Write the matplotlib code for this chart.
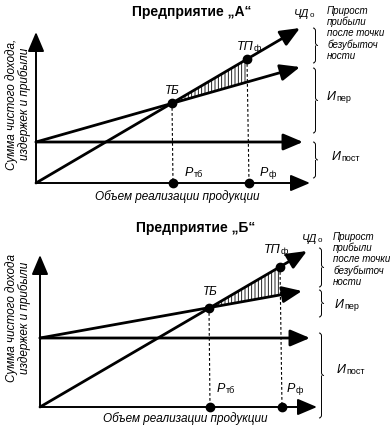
import numpy as np
import matplotlib
matplotlib.use("Agg")
import matplotlib.pyplot as plt
from matplotlib.path import Path
from matplotlib.patches import PathPatch

plt.rcParams['font.family'] = ['Liberation Sans', 'DejaVu Sans']
plt.rcParams['hatch.linewidth'] = 0.6

# ---- panel data (units, origin at the axis corner) ----
titles = ["Предприятие „А“", "Предприятие „Б“"]
ylabels = ["Сумма чистого дохода,\nиздержек и прибыли",
           "Сумма чистого дохода\nиздержек и прибыли"]
xlabel = "Объем реализации продукции"
gain_text = "Прирост\nприбыли\nпосле точки\nбезубыточ\nности"

axis_end = [(274, 151), (277, 152)]      # x-axis length, y-axis height
fixed_x = [[0, 267], [0, 270]]
fixed_y = [[41, 41], [69, 69]]
cost_x = [[0, 264], [0, 262]]
cost_y = [[41, 116], [69, 116]]
rev_x = [[0, 264], [0, 267]]
rev_y = [[0, 155], [0, 156]]
tb_pt = [(136, 80), (169, 99)]           # break-even point ТБ
tp_pt = [(211, 124), (240, 140)]         # actual point ТПф
p_tb = [137, 170]                        # Ртб on x axis
p_f = [213, 242]                         # Рф on x axis

# layout (pixel geometry of the two panels)
frames = [dict(rect=[0, 0.5, 1, 0.5], xlim=(-36, 354), ylim=(-30, 183)),
          dict(rect=[0, 0.0, 1, 0.5], xlim=(-40, 350), ylim=(-19, 194))]
lab = [dict(title=(156, 171), xl=(141, -14), yl=(-18, 79), tb=(136, 86),
            tp=(201, 133), chd=(258, 166), ptb=(149, 7), pf=(224, 7),
            gain=(291, 177), iper=(291, 83), ipost=(296, 23),
            br_x=277, br=[(155, 120), (115, 50), (41, 5)]),
      dict(title=(156, 179), xl=(145, -12), yl=(-22, 89), tb=(170, 109),
            tp=(224, 154), chd=(262, 165), ptb=(177, 15), pf=(247, 15),
            gain=(293, 175), iper=(295, 99), ipost=(297, 34),
            br_x=279, br=[(159, 120), (117, 90), (74, -11)])]

fig = plt.figure(figsize=(3.9, 4.26), dpi=100)


def arrow(ax, x, y, lw=2.0):
    ax.annotate('', xy=(x[1], y[1]), xytext=(x[0], y[0]),
                arrowprops=dict(arrowstyle='-|>,head_length=0.85,head_width=0.36',
                                lw=lw, color='k', mutation_scale=14,
                                shrinkA=0, shrinkB=0))


def brace(ax, x, ytop, ybot, w=5):
    ym = (ytop + ybot) / 2
    r = 3
    verts = [(x, ytop), (x + w / 2, ytop), (x + w / 2, ytop - r),
             (x + w / 2, ym + r),
             (x + w / 2, ym), (x + w, ym),
             (x + w / 2, ym), (x + w / 2, ym - r),
             (x + w / 2, ybot + r),
             (x + w / 2, ybot), (x, ybot)]
    codes = [Path.MOVETO, Path.CURVE3, Path.CURVE3, Path.LINETO,
             Path.CURVE3, Path.CURVE3, Path.MOVETO, Path.CURVE3,
             Path.LINETO, Path.CURVE3, Path.CURVE3]
    ax.add_patch(PathPatch(Path(verts, codes), fc='none', ec='k', lw=0.7))


def sublabel(ax, x, y, main, sub, size=9):
    t = ax.text(x, y, main, fontsize=size, style='italic', ha='left',
                va='baseline', zorder=6)
    ax.annotate(sub, xy=(1.0, 0.0), xycoords=t, xytext=(0.3, 0),
                textcoords='offset points', fontsize=size * 0.72,
                ha='left', va='bottom', zorder=6)


for i in range(2):
    f = frames[i]
    L = lab[i]
    ax = fig.add_axes(f['rect'])
    ax.set_xlim(*f['xlim'])
    ax.set_ylim(*f['ylim'])
    ax.axis('off')

    # axes
    arrow(ax, [0, axis_end[i][0]], [0, 0], lw=1.4)
    arrow(ax, [0, 0], [0, axis_end[i][1]], lw=1.4)

    # lines
    arrow(ax, fixed_x[i], fixed_y[i])
    arrow(ax, cost_x[i], cost_y[i])
    arrow(ax, rev_x[i], rev_y[i])

    # hatched profit wedge
    cx = np.array([tb_pt[i][0], tp_pt[i][0]])
    top = np.interp(cx, rev_x[i], rev_y[i])
    bot = np.interp(cx, cost_x[i], cost_y[i])
    ax.fill_between(cx, bot, top, facecolor='none', edgecolor='k', hatch='|||||', lw=0)

    # dashed drops
    ax.plot([tb_pt[i][0], p_tb[i]], [tb_pt[i][1], 0], 'k', ls=(0, (2.5, 2)), lw=0.8)
    ax.plot([tp_pt[i][0], p_f[i]], [tp_pt[i][1], 0], 'k', ls=(0, (2.5, 2)), lw=0.8)

    # dots
    ax.plot([tb_pt[i][0], tp_pt[i][0], p_tb[i], p_f[i]],
            [tb_pt[i][1], tp_pt[i][1], 0, 0], 'o', color='k', ms=6, zorder=5)

    # texts
    ax.text(*L['title'], titles[i], fontsize=10, fontweight='bold',
            ha='center', va='center')
    ax.text(*L['xl'], xlabel, fontsize=8.5, style='italic', ha='center', va='center')
    ax.text(*L['yl'], ylabels[i], fontsize=8.5, style='italic', ha='center',
            va='center', rotation=90, linespacing=1.0)
    ax.text(*L['tb'], "ТБ", fontsize=8.5, style='italic', ha='center', va='bottom')
    sublabel(ax, L['tp'][0], L['tp'][1], "ТП", "ф")
    sublabel(ax, L['chd'][0], L['chd'][1], "ЧД", "о", size=8)
    sublabel(ax, L['ptb'][0], L['ptb'][1], "P", "тб")
    sublabel(ax, L['pf'][0], L['pf'][1], "P", "ф")
    ax.text(*L['gain'], gain_text, fontsize=7, style='italic', ha='left',
            va='top', linespacing=1.12)
    sublabel(ax, L['iper'][0], L['iper'][1], "И", "пер")
    sublabel(ax, L['ipost'][0], L['ipost'][1], "И", "пост")
    for yt, yb in L['br']:
        brace(ax, L['br_x'], yt, yb)

fig.savefig("out.png", dpi=100)
